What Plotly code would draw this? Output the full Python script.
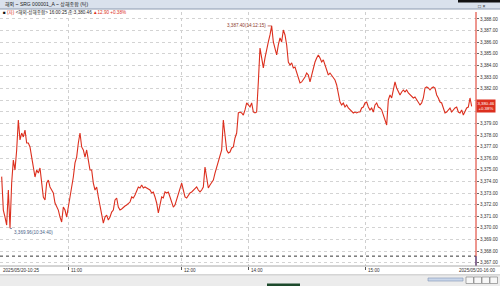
import plotly.graph_objects as go

# ---------------- data ----------------
prices = [
    3374.41, 3371.53, 3370.93, 3370.24, 3373.26, 3369.96, 3373.86, 3375.84, 3374.98, 3376.71,
    3379.29, 3377.57, 3378.17, 3377.83, 3378.43, 3377.31, 3377.31, 3376.97, 3376.10, 3375.24,
    3374.38, 3374.98, 3374.72, 3375.16, 3373.86, 3372.66, 3372.40, 3373.86, 3374.12, 3373.52,
    3373.26, 3373.00, 3372.14, 3371.79, 3371.53, 3370.93, 3370.50, 3371.79, 3371.53, 3370.93,
    3371.79, 3372.40, 3373.52, 3374.38, 3375.59, 3376.10, 3377.31, 3378.17, 3376.97, 3376.71,
    3376.10, 3376.71, 3375.84, 3374.98, 3374.98, 3373.86, 3373.26, 3373.52, 3372.66, 3371.79,
    3371.28, 3370.41, 3370.93, 3371.10, 3370.67, 3370.93, 3371.36, 3371.53, 3372.40, 3372.57,
    3371.79, 3371.53, 3371.62, 3371.79, 3371.88, 3371.97, 3372.14, 3372.22, 3372.66, 3372.57,
    3372.83, 3373.26, 3373.52, 3373.43, 3373.69, 3373.43, 3373.52, 3373.43, 3373.34, 3373.26,
    3373.00, 3373.09, 3372.66, 3372.14, 3371.28, 3372.14, 3372.66, 3372.57, 3373.09, 3373.00,
    3373.09, 3372.66, 3372.14, 3371.79, 3371.97, 3372.40, 3372.83, 3373.26, 3373.86, 3373.26,
    3372.66, 3372.57, 3372.83, 3373.00, 3373.09, 3373.26, 3373.43, 3373.52, 3373.26, 3373.09,
    3373.26, 3373.52, 3375.24, 3374.12, 3373.43, 3373.69, 3373.86, 3374.12, 3374.72, 3375.24,
    3375.59, 3376.10, 3376.71, 3379.29, 3377.83, 3376.71, 3376.45, 3376.53, 3376.88, 3376.97,
    3377.74, 3378.17, 3379.90, 3379.98, 3379.90, 3379.72, 3380.16, 3380.76, 3380.59, 3380.41,
    3380.76, 3379.98, 3379.90, 3379.98, 3382.57, 3385.50, 3384.64, 3383.78, 3384.64, 3385.50,
    3386.02, 3386.62, 3387.40, 3386.02, 3385.50, 3384.90, 3385.76, 3386.36, 3386.02, 3387.05,
    3386.62, 3385.76, 3384.29, 3384.03, 3384.21, 3383.78, 3383.86, 3383.43, 3382.91, 3382.48,
    3382.57, 3382.74, 3383.00, 3383.34, 3383.17, 3382.57, 3383.17, 3383.78, 3384.29, 3384.64,
    3384.90, 3384.64, 3384.29, 3384.47, 3384.03, 3383.43, 3383.17, 3383.34, 3383.17, 3383.00,
    3382.74, 3382.31, 3381.71, 3380.84, 3380.59, 3380.76, 3380.41, 3380.59, 3380.33, 3380.16,
    3379.98, 3379.90, 3379.98, 3379.90, 3379.98, 3379.98, 3380.33, 3380.41, 3380.76, 3380.84,
    3380.41, 3380.16, 3380.33, 3379.98, 3380.59, 3380.76, 3380.41, 3380.33, 3380.16, 3379.72,
    3379.29, 3378.86, 3381.02, 3381.45, 3381.19, 3382.05, 3382.57, 3382.05, 3381.71, 3381.45,
    3381.71, 3381.88, 3381.71, 3381.88, 3381.62, 3381.45, 3381.28, 3381.19, 3381.28, 3381.02,
    3380.84, 3380.59, 3380.76, 3381.19, 3382.05, 3382.14, 3382.05, 3381.88, 3382.05, 3382.14,
    3382.05, 3381.45, 3381.19, 3380.84, 3380.76, 3380.41, 3379.90, 3379.98, 3380.16, 3380.33,
    3379.98, 3380.16, 3380.33, 3380.41, 3379.98, 3379.90, 3380.16, 3379.72, 3379.98, 3380.33,
    3380.41, 3381.19, 3380.46,
]
seq = list(range(1, len(prices) + 1))          # tick sequence number

x_tick_pos = [0, 40.8, 108.6, 148.8, 219.0, 285.6]
x_tick_text = ["2025/05/20-10:25", "11:00", "12:00", "14:00", "15:00", "2025/05/20-16:00"]
y_ticks = list(range(3367, 3389))
hidden_y_labels = [3380, 3381]   # covered by the current-price tag in the original
y_tick_text = ["" if v in hidden_y_labels else f"{v:,.2f}" for v in y_ticks]

prev_close = 3367.56
last_price = 3380.46
change = 12.90
change_pct = 0.38
hi_label = "3,387.40(14:12:15)"
lo_label = "3,369.96(10:34:40)"
title_text = "해외 ~ SRG 000001_A ~ 상해종합 (틱)"

# ---------------- layout helpers ----------------
W, H = 500, 286
ML, MR, MT, MB = 0, 24, 12, 20
PW, PH = W - ML - MR, H - MT - MB

def px(x):
    return (x - ML) / PW

def py(y):
    return (H - MB - y) / PH

RED = "#dc2f1e"
BLUE = "#27449a"
FONT = "Liberation Sans, Noto Sans CJK KR, sans-serif"

hi_i = max(range(len(prices)), key=lambda i: prices[i])
lo_i = min(range(len(prices)), key=lambda i: prices[i])

fig = go.Figure()
fig.add_trace(go.Scatter(x=seq, y=prices, mode="lines",
                         line=dict(color=RED, width=1.1), hoverinfo="skip"))

shapes = []
# previous close dotted line
shapes.append(dict(type="line", xref="paper", yref="y", x0=0, x1=1,
                   y0=prev_close, y1=prev_close,
                   line=dict(color="#333", width=1, dash="dot")))
# right axis line: red above prev close, blue below
shapes.append(dict(type="line", xref="paper", yref="paper", x0=1, x1=1,
                   y0=py(266), y1=1.0, line=dict(color=RED, width=1)))
shapes.append(dict(type="line", xref="paper", yref="y", x0=1, x1=1,
                   y0=3366.71, y1=prev_close, line=dict(color=BLUE, width=1)))
# header bar
shapes.append(dict(type="rect", xref="paper", yref="paper", x0=px(0), x1=px(500),
                   y0=py(9), y1=py(0), fillcolor="#d9e1ec", line=dict(width=0), layer="above"))
shapes.append(dict(type="line", xref="paper", yref="paper", x0=px(0), x1=px(500),
                   y0=py(9), y1=py(9), line=dict(color="#8d9bb0", width=1), layer="above"))
shapes.append(dict(type="rect", xref="paper", yref="paper", x0=px(458), x1=px(500),
                   y0=py(2.5), y1=py(0), fillcolor="#111", line=dict(width=0), layer="above"))
# x label row and scrollbar row
shapes.append(dict(type="line", xref="paper", yref="paper", x0=px(0), x1=px(500),
                   y0=py(266), y1=py(266), line=dict(color="#aaa", width=1)))
shapes.append(dict(type="line", xref="paper", yref="paper", x0=px(0), x1=px(500),
                   y0=py(275), y1=py(275), line=dict(color="#aaa", width=1)))
shapes.append(dict(type="rect", xref="paper", yref="paper", x0=px(0), x1=px(500),
                   y0=py(286), y1=py(275.5), fillcolor="#ececec", line=dict(width=0)))
shapes.append(dict(type="rect", xref="paper", yref="paper", x0=px(428), x1=px(463),
                   y0=py(281), y1=py(278), fillcolor="#c9d6ea", line=dict(color="#7f93b5", width=0.6)))
for bx in [466, 474, 482, 490]:
    shapes.append(dict(type="rect", xref="paper", yref="paper", x0=px(bx), x1=px(bx + 7.5),
                       y0=py(283.5), y1=py(277), fillcolor="#f7f7f7",
                       line=dict(color="#777", width=0.6)))
shapes.append(dict(type="rect", xref="paper", yref="paper", x0=px(267), x1=px(300),
                   y0=py(286), y1=py(283.5), fillcolor="#1d4a2c", line=dict(width=0)))

annotations = []
annotations.append(dict(xref="paper", yref="paper", x=px(3), y=py(4.6), xanchor="left",
                        yanchor="middle", showarrow=False, text=title_text,
                        font=dict(size=5, color="#222", family=FONT)))
annotations.append(dict(xref="paper", yref="paper", x=px(476), y=py(5.5), xanchor="left",
                        yanchor="middle", showarrow=False, text="□ ×",
                        font=dict(size=5, color="#222", family=FONT)))
info = (f"<span style='color:#111'>■</span> <span style='color:{RED}'>(자)</span> "
        f"<span style='color:#222'>&lt;해외-상해종합&gt; 16:00:25 종:{last_price:,.2f}</span> "
        f"<span style='color:{RED}'>▲{change:.2f} +{change_pct:.2f}%</span>")
annotations.append(dict(xref="paper", yref="paper", x=px(1), y=py(13), xanchor="left",
                        yanchor="middle", showarrow=False, text=info,
                        font=dict(size=4.6, color="#222", family=FONT)))
# high / low markers
annotations.append(dict(x=seq[hi_i], y=prices[hi_i], xref="x", yref="y", text=hi_label,
                        showarrow=True, arrowhead=0, arrowwidth=0.7, arrowcolor="#b23a2a",
                        ax=-25, ay=0, font=dict(size=4.6, color="#8e3b2c", family=FONT)))
annotations.append(dict(x=seq[lo_i], y=prices[lo_i], xref="x", yref="y", text=lo_label,
                        showarrow=True, arrowhead=0, arrowwidth=0.7, arrowcolor="#4a5f8a",
                        ax=23, ay=4, font=dict(size=4.6, color="#4a5f8a", family=FONT)))
# current price tag
annotations.append(dict(xref="paper", yref="y", x=1, y=last_price, xanchor="left",
                        yanchor="middle", showarrow=False,
                        text=f"{last_price:,.2f}<br>+{change_pct:.2f}%",
                        bgcolor=RED, borderpad=0.5,
                        font=dict(size=4.3, color="white", family=FONT)))
# x tick labels (left-aligned at the tick like the original)
for i, (pos, txt) in enumerate(zip(x_tick_pos, x_tick_text)):
    if i == len(x_tick_pos) - 1:
        annotations.append(dict(xref="paper", yref="paper", x=1, y=py(270.5), xanchor="right",
                                xshift=21, yanchor="middle", showarrow=False, text=txt,
                                font=dict(size=4.6, color="#333", family=FONT)))
    else:
        annotations.append(dict(xref="x", yref="paper", x=pos, y=py(270.5), xanchor="left",
                                xshift=1, yanchor="middle", showarrow=False, text=txt,
                                font=dict(size=4.6, color="#333", family=FONT)))

fig.update_layout(
    width=W, height=H,
    margin=dict(l=ML, r=MR, t=MT, b=MB, pad=0),
    paper_bgcolor="white", plot_bgcolor="white",
    showlegend=False,
    shapes=shapes, annotations=annotations,
    xaxis=dict(range=[0, x_tick_pos[-1]], tickvals=x_tick_pos[1:-1], showticklabels=False,
               ticks="outside", ticklen=3, tickcolor="#555", tickwidth=0.8,
               showgrid=True, gridcolor="#cfcfcf", griddash="dot", gridwidth=1,
               zeroline=False, showline=False, fixedrange=True),
    yaxis=dict(side="right", range=[3366.71, 3388.60], tickvals=y_ticks, ticktext=y_tick_text,
               ticks="outside", ticklen=2, tickcolor="#666", tickwidth=0.6,
               tickfont=dict(size=4.6, color="#333", family=FONT),
               showgrid=True, gridcolor="#d3d3d3", griddash="dot", gridwidth=1,
               zeroline=False, showline=False, fixedrange=True),
)

fig.write_html("out.html")
